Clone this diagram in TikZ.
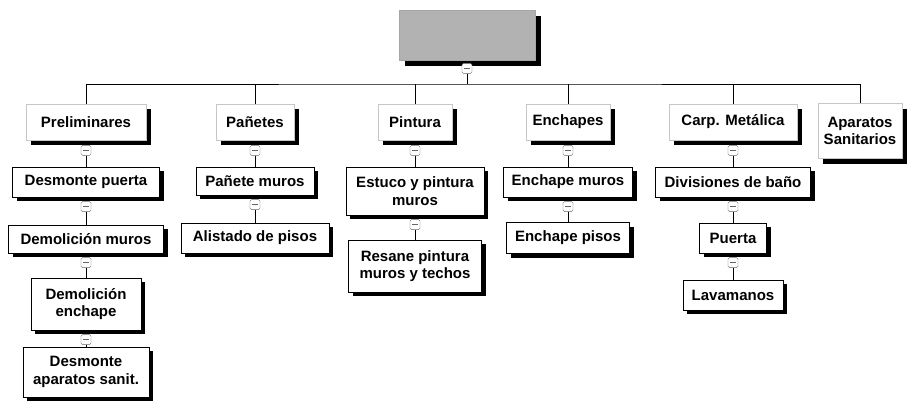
\documentclass[tikz,border=0pt]{standalone}
\usepackage{fontspec}
\setmainfont{Liberation Sans}
\usepackage{tikz}
\usetikzlibrary{shadows,positioning}

\tikzset{
  card/.style={fill=white, inner sep=0pt, align=center,
    font=\fontsize{15}{17.5}\selectfont\bfseries},
  box/.style={card, draw, line width=0.9pt,
    drop shadow={shadow xshift=4pt, shadow yshift=-4pt, fill=black, opacity=1}},
  headbox/.style={card, draw=gray!45, line width=0.4pt,
    drop shadow={shadow xshift=5pt, shadow yshift=-5pt, fill=black, opacity=1}},
  rootbox/.style={draw=gray!70, fill=gray!60, line width=0.4pt,
    drop shadow={shadow xshift=6pt, shadow yshift=-6pt, fill=black, opacity=1}},
  tog/.style={draw=black!60, fill=white, rounded corners=1.5pt, minimum size=10pt, inner sep=0pt,
    path picture={\draw[line width=1.4pt] ([xshift=-2.8pt]path picture bounding box.center) -- ([xshift=2.8pt]path picture bounding box.center);}},
  link/.style={line width=0.9pt}
}

\begin{document}
\begin{tikzpicture}[x=1pt,y=-1pt]
\useasboundingbox (0,0) rectangle (907,404);

% Root
\node[rootbox, minimum width=136, minimum height=50] (root) at (467,35) {};
\node[tog, below=3pt of root] (troot) {};
\coordinate (bus) at (467,84);

% First level
\node[headbox, minimum width=120, minimum height=36] (pre) at (86,122) {Preliminares};
\node[headbox, minimum width=78, minimum height=36] (pan) at (255,122) {Pañetes};
\node[headbox, minimum width=74, minimum height=36] (pin) at (415,122) {Pintura};
\node[headbox, minimum width=84, minimum height=36] (enc) at (568,122) {Enchapes};
\node[headbox, minimum width=128, minimum height=36] (carp) at (733,122) {Carp. Metálica};
\node[headbox, minimum width=84, minimum height=55] (apa) at (860,131) {Aparatos\\Sanitarios};

% Preliminares
\node[box, minimum width=147, minimum height=30] (dp) at (86,182) {Desmonte puerta};
\node[box, minimum width=155, minimum height=28] (dm) at (86,239) {Demolición muros};
\node[box, minimum width=110, minimum height=52] (de) at (86,304) {Demolición\\enchape};
\node[box, minimum width=126, minimum height=50] (da) at (86,372) {Desmonte\\aparatos sanit.};

% Pañetes
\node[box, minimum width=118, minimum height=28] (pm) at (255,181) {Pañete muros};
\node[box, minimum width=148, minimum height=30] (ap) at (255,238) {Alistado de pisos};

% Pintura
\node[box, minimum width=138, minimum height=48] (ep) at (415,191) {Estuco y pintura\\muros};
\node[box, minimum width=133, minimum height=52] (rp) at (415,266) {Resane pintura\\muros y techos};

% Enchapes
\node[box, minimum width=129, minimum height=30] (em) at (568,182) {Enchape muros};
\node[box, minimum width=123, minimum height=31] (es) at (568,238) {Enchape pisos};

% Carp. Metalica
\node[box, minimum width=155, minimum height=30] (db) at (733,182) {Divisiones de baño};
\node[box, minimum width=67, minimum height=30] (pu) at (733,238) {Puerta};
\node[box, minimum width=100, minimum height=30] (lv) at (733,295) {Lavamanos};

% Toggles
\foreach \n in {pre,pan,pin,enc,carp}
  \node[tog, below=5pt of \n] (t\n) {};
\foreach \n in {dp,dm,de,pm,ep,em,db,pu}
  \node[tog, below=4pt of \n] (t\n) {};

% Connectors
\draw[link] (troot) -- (bus);
\draw[link] (pre.north) |- (bus) -| (apa.north);
\foreach \n in {pan,pin,enc,carp}
  \draw[link] (\n.north) -- (\n.north |- bus);
\draw[link] (tpre) -- (dp);
\draw[link] (tdp) -- (dm);
\draw[link] (tdm) -- (de);
\draw[link] (tde) -- (da);
\draw[link] (tpan) -- (pm);
\draw[link] (tpm) -- (ap);
\draw[link] (tpin) -- (ep);
\draw[link] (tep) -- (rp);
\draw[link] (tenc) -- (em);
\draw[link] (tem) -- (es);
\draw[link] (tcarp) -- (db);
\draw[link] (tdb) -- (pu);
\draw[link] (tpu) -- (lv);

\end{tikzpicture}
\end{document}
